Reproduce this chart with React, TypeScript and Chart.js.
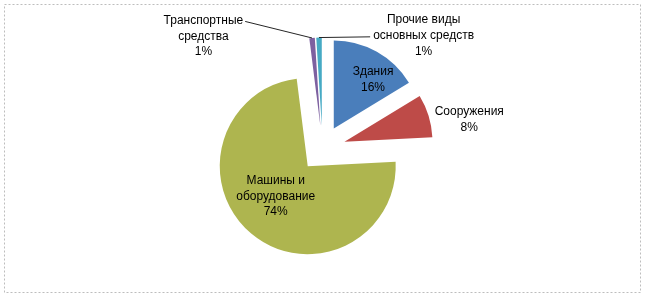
import React, { useEffect, useRef } from "react";
import { Chart, registerables } from "chart.js";

Chart.register(...registerables);

// ---- data ----
const categories = [
  "Здания",
  "Сооружения",
  "Машины и оборудование",
  "Транспортные средства",
  "Прочие виды основных средств",
];
const values = [16.3, 7.9, 73.8, 1.0, 1.0];

// ---- styling / layout ----
const colors = ["#4A7EBB", "#BE4B48", "#AEB54F", "#7D60A0", "#46AAC4"];
const explode = [23, 23, 23, 23, 23];
// label placement: angle in degrees clockwise from 12 o'clock, distance as multiple of radius
const labelAngles = [36.3, 78.8, 224.4, 313.3, 41.9];
const labelDistances = [0.97, 1.7, 0.76, 1.86, 1.72];
const leaders: ({ side: "left" | "right"; line: number } | null)[] = [
  null,
  null,
  null,
  { side: "right", line: 0 },
  { side: "left", line: 1 },
];
const FONT = "12px 'Liberation Sans', Arial, sans-serif";
const LINE_H = 15.8;
const WRAP_W = 110;

function wrap(ctx: CanvasRenderingContext2D, text: string, maxW: number): string[] {
  const words = text.split(" ");
  const lines: string[] = [];
  let cur = "";
  for (const w of words) {
    const test = cur ? cur + " " + w : w;
    if (cur && ctx.measureText(test).width > maxW) {
      lines.push(cur);
      cur = w;
    } else {
      cur = test;
    }
  }
  if (cur) lines.push(cur);
  return lines;
}

const borderPlugin = {
  id: "dottedBorder",
  beforeDraw(chart: any) {
    const ctx = chart.ctx as CanvasRenderingContext2D;
    ctx.save();
    ctx.fillStyle = "#ffffff";
    ctx.fillRect(0, 0, chart.width, chart.height);
    ctx.strokeStyle = "#bdbdbd";
    ctx.lineWidth = 1;
    ctx.setLineDash([2, 2]);
    ctx.strokeRect(4.5, 4.5, chart.width - 11, chart.height - 11);
    ctx.restore();
  },
};

const explodePlugin = {
  id: "explodeSlices",
  afterDatasetUpdate(chart: any, args: any) {
    const meta = chart.getDatasetMeta(args.index);
    meta.data.forEach((arc: any, i: number) => {
      const mid = (arc.startAngle + arc.endAngle) / 2;
      const d = explode[i] || 0;
      arc.$cx = arc.x;
      arc.$cy = arc.y;
      arc.x = arc.x + Math.cos(mid) * d;
      arc.y = arc.y + Math.sin(mid) * d;
    });
  },
};

const labelPlugin = {
  id: "sliceLabels",
  afterDatasetsDraw(chart: any) {
    const ctx = chart.ctx as CanvasRenderingContext2D;
    const meta = chart.getDatasetMeta(0);
    const total = values.reduce((a, b) => a + b, 0);
    ctx.save();
    ctx.font = FONT;
    ctx.fillStyle = "#000000";
    ctx.textAlign = "center";
    ctx.textBaseline = "middle";
    meta.data.forEach((arc: any, i: number) => {
      const r = arc.outerRadius;
      const a = ((labelAngles[i] - 90) * Math.PI) / 180;
      const lx = arc.$cx + Math.cos(a) * r * labelDistances[i];
      const ly = arc.$cy + Math.sin(a) * r * labelDistances[i];
      const lines = wrap(ctx, categories[i], WRAP_W).concat([
        Math.round((values[i] / total) * 100) + "%",
      ]);
      const y0 = ly - ((lines.length - 1) * LINE_H) / 2;
      lines.forEach((t, k) => ctx.fillText(t, lx, y0 + k * LINE_H));
      const leader = leaders[i];
      if (leader) {
        const mid = (arc.startAngle + arc.endAngle) / 2;
        const px = arc.x + Math.cos(mid) * r;
        const py = arc.y + Math.sin(mid) * r;
        const w = ctx.measureText(lines[leader.line]).width;
        const tx = leader.side === "right" ? lx + w / 2 + 2 : lx - w / 2 - 3;
        const ty = y0 + leader.line * LINE_H + 1;
        ctx.save();
        ctx.strokeStyle = "#262626";
        ctx.lineWidth = 1;
        ctx.beginPath();
        ctx.moveTo(tx, ty);
        ctx.lineTo(px, py);
        ctx.stroke();
        ctx.restore();
      }
    });
    ctx.restore();
  },
};

export default function App() {
  const canvasRef = useRef<HTMLCanvasElement | null>(null);

  useEffect(() => {
    document.body.style.margin = "0";
    const canvas = canvasRef.current;
    if (!canvas) return;
    const chart = new Chart(canvas, {
      type: "pie",
      data: {
        labels: categories,
        datasets: [
          {
            data: values,
            backgroundColor: colors,
            borderWidth: 0,
            radius: 88,
          } as any,
        ],
      },
      options: {
        responsive: false,
        maintainAspectRatio: false,
        animation: false,
        events: [],
        layout: { padding: { left: 0, right: 2, top: 0, bottom: 2 } },
        plugins: {
          legend: { display: false },
          tooltip: { enabled: false },
        },
      },
      plugins: [borderPlugin, explodePlugin, labelPlugin],
    });
    return () => chart.destroy();
  }, []);

  return (
    <div style={{ width: 647, height: 299, position: "relative" }}>
      <canvas ref={canvasRef} width={647} height={299} style={{ display: "block" }} />
    </div>
  );
}
